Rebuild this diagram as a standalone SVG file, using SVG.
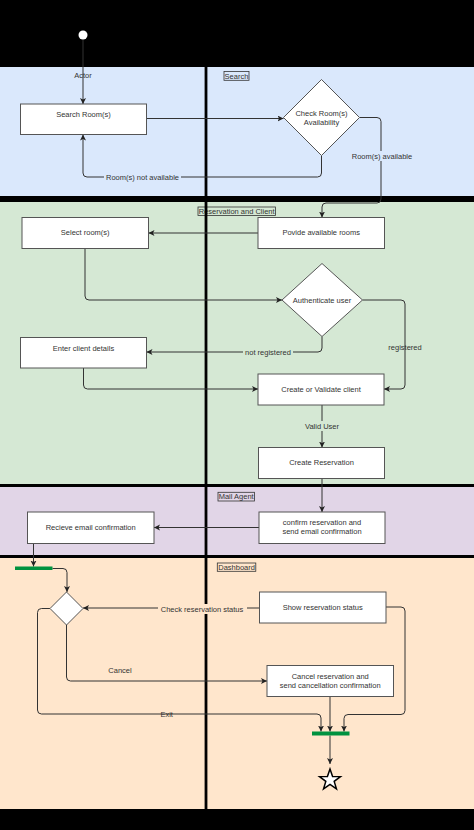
<svg xmlns="http://www.w3.org/2000/svg" width="474" height="830" viewBox="0 0 474 830">
<defs>
<marker id="arr" markerUnits="userSpaceOnUse" markerWidth="7" markerHeight="7" refX="6" refY="3" orient="auto">
<path d="M0,0 L6,3 L0,6 L1.5,3 z" fill="#222"/>
</marker>
</defs>
<style>
.t{font-family:"Liberation Sans",Arial,sans-serif;font-size:7.5px;fill:#333;text-anchor:middle}
.box{fill:#fff;stroke:#555;stroke-width:1}
.edge{fill:none;stroke:#333;stroke-width:1;marker-end:url(#arr)}
.lbox{stroke:#333;stroke-width:0.8}
.bar{fill:#00923f}
</style>
<rect x="0" y="0" width="474" height="830" fill="#000"/>
<g id="lanes">
<rect x="0" y="67" width="474" height="129" fill="#dae8fc"/>
<rect x="0" y="202" width="474" height="282" fill="#d5e8d4"/>
<rect x="0" y="487" width="474" height="68" fill="#e1d5e7"/>
<rect x="0" y="558" width="474" height="251" fill="#ffe6cc"/>
</g>
<g id="lane-labels">
<rect class="lbox" x="224" y="71.5" width="25" height="8.8" fill="#dae8fc"/>
<text class="t" x="236.5" y="78.6">Search</text>
<rect class="lbox" x="198" y="207" width="77.5" height="8.5" fill="#d5e8d4"/>
<text class="t" x="236.7" y="214">Reservation and Client</text>
<rect class="lbox" x="218" y="492.3" width="36.5" height="8.7" fill="#e1d5e7"/>
<text class="t" x="236.2" y="499.4">Mail Agent</text>
<rect class="lbox" x="217.3" y="563" width="38.5" height="8.3" fill="#ffe6cc"/>
<text class="t" x="236.6" y="569.9">Dashboard</text>
</g>
<rect x="204.6" y="62" width="2.8" height="752" fill="#000"/>
<g id="connectors">
<path class="edge" d="M83,39.5 V104"/>
<path class="edge" d="M146.5,118.5 H283.5"/>
<path class="edge" d="M321.5,155.5 V173 Q321.5,177 317.5,177 H87 Q83,177 83,173 V134.5"/>
<path class="edge" d="M359.5,117.5 H377 Q381,117.5 381,121.5 V199 Q381,203 377,203 H326 Q322,203 322,207 V217.5"/>
<path class="edge" d="M258,233 H148.5"/>
<path class="edge" d="M85,248.5 V296 Q85,300 89,300 H282"/>
<path class="edge" d="M322,336.5 V348 Q322,352 318,352 H146.5"/>
<path class="edge" d="M362.5,300 H401 Q405,300 405,304 V385 Q405,389 401,389 H384"/>
<path class="edge" d="M83.5,368 V385 Q83.5,389 87.5,389 H258"/>
<path class="edge" d="M322,405 V447.5"/>
<path class="edge" d="M322,478.5 V512"/>
<path class="edge" d="M259,527.5 H154"/>
<path class="edge" d="M33.5,543.5 V566.5"/>
<path class="edge" d="M52.5,568.5 H63 Q67,568.5 67,572.5 V592"/>
<path class="edge" d="M259.5,608 H83"/>
<path class="edge" d="M66.5,625 V677 Q66.5,681 70.5,681 H267"/>
<path class="edge" d="M50,608.5 H41.5 Q37.5,608.5 37.5,612.5 V710 Q37.5,714 41.5,714 H317 Q321,714 321,718 V731.5"/>
<path class="edge" d="M330,696.5 V731.5"/>
<path class="edge" d="M386,607 H401 Q405,607 405,611 V710.5 Q405,714.5 401,714.5 H348 Q344,714.5 344,718.5 V731.5"/>
<path class="edge" d="M330,735.5 V764"/>
<text class="t" x="83" y="77.8">Actor</text>
<rect x="104" y="172" width="77" height="10" fill="#dae8fc"/>
<text class="t" x="142.5" y="179.7">Room(s) not available</text>
<rect x="351" y="151" width="62" height="10" fill="#dae8fc"/>
<text class="t" x="382" y="158.7">Room(s) available</text>
<rect x="243" y="347" width="50" height="10" fill="#d5e8d4"/>
<text class="t" x="268" y="354.7">not registered</text>
<text class="t" x="405" y="349.7">registered</text>
<rect x="304" y="421" width="36" height="10" fill="#d5e8d4"/>
<text class="t" x="322" y="428.7">Valid User</text>
<rect x="158" y="604" width="89" height="10" fill="#ffe6cc"/>
<text class="t" x="202" y="612">Check reservation status</text>
<text class="t" x="120" y="673.4">Cancel</text>
<text class="t" x="166.7" y="717.2">Exit</text>
</g>
<g id="start"><circle cx="83" cy="35" r="4.5" fill="#fff"/></g>
<g id="search-rooms"><rect class="box" x="20.5" y="104" width="126" height="30.5"/><text class="t" x="83.5" y="117.4">Search Room(s)</text></g>
<g id="check-availability"><polygon class="box" points="321.5,79.5 359.5,117.5 321.5,155.5 283.5,117.5"/><text class="t" x="321.5" y="115.7">Check Room(s)</text><text class="t" x="321.5" y="124.7">Availability</text></g>
<g id="provide-rooms"><rect class="box" x="258" y="217.5" width="126.5" height="31"/><text class="t" x="321.2" y="235">Povide available rooms</text></g>
<g id="select-rooms"><rect class="box" x="22" y="217.5" width="126.5" height="31"/><text class="t" x="85.2" y="234.7">Select room(s)</text></g>
<g id="authenticate"><polygon class="box" points="322,263.5 362.5,300 322,336.5 282,300"/><text class="t" x="322" y="302.7">Authenticate user</text></g>
<g id="enter-client"><rect class="box" x="20.5" y="337.5" width="126" height="30.5"/><text class="t" x="83.5" y="350.7">Enter client details</text></g>
<g id="create-validate"><rect class="box" x="258" y="374" width="126" height="31"/><text class="t" x="321" y="391.7">Create or Validate client</text></g>
<g id="create-reservation"><rect class="box" x="258.5" y="447.5" width="126" height="31"/><text class="t" x="321.5" y="465.4">Create Reservation</text></g>
<g id="confirm-reservation"><rect class="box" x="259" y="512" width="126" height="31.5"/><text class="t" x="322" y="525.4">confirm reservation and</text><text class="t" x="322" y="534">send email confirmation</text></g>
<g id="receive-email"><rect class="box" x="27.5" y="512" width="126.5" height="31.5"/><text class="t" x="90.7" y="529.7">Recieve email confirmation</text></g>
<g id="fork-bar"><rect class="bar" x="15" y="566.5" width="37.5" height="3.5"/></g>
<g id="decision"><polygon class="box" points="66.5,592 83,608.5 66.5,625 50,608.5"/></g>
<g id="show-status"><rect class="box" x="259.5" y="592" width="126.5" height="31"/><text class="t" x="322.7" y="609.7">Show reservation status</text></g>
<g id="cancel-reservation"><rect class="box" x="267" y="665.5" width="126.5" height="31"/><text class="t" x="330.2" y="678.7">Cancel reservation and</text><text class="t" x="330.2" y="687.7">send cancellation confirmation</text></g>
<g id="join-bar"><rect class="bar" x="312" y="731.5" width="37.5" height="4"/></g>
<g id="end"><polygon points="330,769 332.59,776.44 340.46,776.6 334.18,781.36 336.47,788.9 330,784.4 323.53,788.9 325.82,781.36 319.54,776.6 327.41,776.44" fill="#fff" stroke="#000" stroke-width="1.5" stroke-linejoin="miter"/></g>
</svg>
